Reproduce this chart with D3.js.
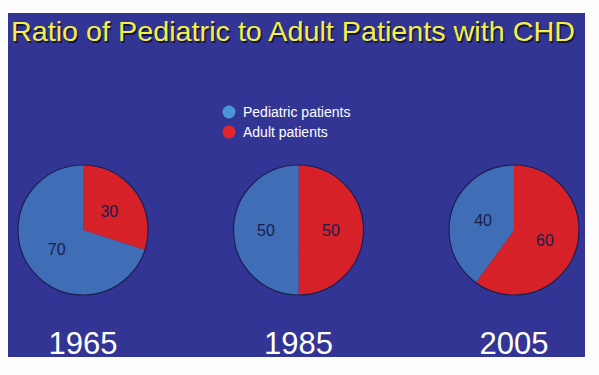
<!DOCTYPE html>
<html>
<head>
<meta charset="utf-8">
<script src="https://cdn.jsdelivr.net/npm/d3@7"></script>
<style>
  html, body { margin: 0; padding: 0; background: #fdfdfd; }
  svg { display: block; font-family: Arial, "Liberation Sans", Helvetica, sans-serif; }
</style>
</head>
<body>
<svg id="chart" width="599" height="375"></svg>
<script>
const years = ['1965', '1985', '2005'];
const pediatric = [70, 50, 40];
const adult = [30, 50, 60];
const seriesNames = ['Pediatric patients', 'Adult patients'];
const title = 'Ratio of Pediatric to Adult Patients with CHD';

const width = 599, height = 375;
const panel = { x: 8, y: 13, w: 577, h: 344 };
const radius = 65;
const pieY = 230;

const sliceColor = { 'Pediatric patients': '#3f6db6', 'Adult patients': '#d52127' };
const legendColor = { 'Pediatric patients': '#4b97d6', 'Adult patients': '#e3262a' };

const svg = d3.select('#chart');

// blue slide background
svg.append('rect')
  .attr('x', panel.x).attr('y', panel.y)
  .attr('width', panel.w).attr('height', panel.h)
  .attr('fill', '#333595');

// title with a dark drop shadow
[['#15153a', 1.5], ['#f3f04a', 0]].forEach(([c, off]) => {
  svg.append('text')
    .attr('x', 11 + off).attr('y', 41 + off)
    .attr('font-size', 28)
    .attr('textLength', 564)
    .attr('lengthAdjust', 'spacingAndGlyphs')
    .attr('fill', c)
    .text(title);
});

// legend
const legend = svg.append('g').attr('transform', 'translate(229,112)');
seriesNames.forEach((name, i) => {
  const g = legend.append('g').attr('transform', `translate(0,${i * 20})`);
  g.append('circle').attr('r', 6.5).attr('fill', legendColor[name]);
  g.append('text')
    .attr('x', 14).attr('y', 5)
    .attr('font-size', 14)
    .attr('fill', '#ffffff')
    .text(name);
});

// one pie per year
const x = d3.scalePoint().domain(years).range([83, 514]);

const pie = d3.pie().sort(null).value(d => d.value);
const arc = d3.arc().innerRadius(0).outerRadius(radius);
const labelArc = d3.arc().innerRadius(radius * 0.5).outerRadius(radius * 0.5);

years.forEach((year, i) => {
  const slices = [
    { name: 'Adult patients', value: adult[i] },
    { name: 'Pediatric patients', value: pediatric[i] }
  ];
  const g = svg.append('g').attr('transform', `translate(${x(year)},${pieY})`);

  const arcs = pie(slices);
  g.selectAll('path')
    .data(arcs)
    .join('path')
    .attr('d', arc)
    .attr('fill', d => sliceColor[d.data.name]);

  g.append('circle')
    .attr('r', radius)
    .attr('fill', 'none')
    .attr('stroke', '#1c1f55')
    .attr('stroke-width', 1.2);

  g.selectAll('text.val')
    .data(arcs)
    .join('text')
    .attr('class', 'val')
    .attr('transform', d => `translate(${labelArc.centroid(d)})`)
    .attr('text-anchor', 'middle')
    .attr('dy', '0.36em')
    .attr('font-size', 16)
    .attr('fill', '#1b1d4c')
    .text(d => d.data.value);

  svg.append('text')
    .attr('x', x(year))
    .attr('y', 354)
    .attr('text-anchor', 'middle')
    .attr('font-size', 31)
    .attr('fill', '#ffffff')
    .text(year);
});
</script>
</body>
</html>
